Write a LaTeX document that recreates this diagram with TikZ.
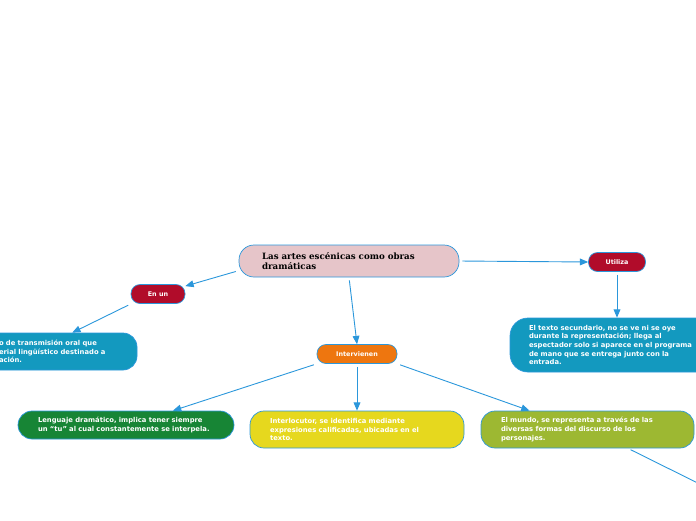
\documentclass[tikz,border=0pt]{standalone}
\usepackage{fontspec}
\setmainfont{DejaVu Sans}
\newfontfamily\titlefont{DejaVu Serif}
\usetikzlibrary{arrows}

\definecolor{linkblue}{HTML}{2B97DB}
\definecolor{crimson}{HTML}{B10C2A}
\definecolor{tealbox}{HTML}{1399BF}
\definecolor{orangebox}{HTML}{EE760F}
\definecolor{greenbox}{HTML}{178535}
\definecolor{yellowbox}{HTML}{E6D81E}
\definecolor{olivebox}{HTML}{9DB832}
\definecolor{pinkbox}{HTML}{E6C5C9}

\begin{document}
\begin{tikzpicture}[x=1pt,y=-1pt,line width=0.9pt,-triangle 45]

  \tikzstyle{pillnode}=[draw=linkblue,line width=0.7pt,rounded corners=9pt,text=white,inner sep=0pt,
                        font=\bfseries\fontsize{6.4}{8}\selectfont,minimum height=19pt]
  \tikzstyle{boxnode}=[draw=linkblue,line width=0.7pt,rounded corners=14pt,text=white,inner sep=0pt,
                       font=\bfseries\fontsize{6.8}{8.6}\selectfont,align=left]
  \tikzstyle{link}=[color=linkblue,shorten <=3pt]

  \useasboundingbox (0,0) rectangle (696,520);

  \node[boxnode,fill=pinkbox,text=black,font=\titlefont\bfseries\fontsize{8.7}{10}\selectfont,
        minimum width=220pt,minimum height=32pt,text width=174pt,rounded corners=15pt] (title) at (349,261)
        {Las artes escénicas como obras\\dramáticas};

  \node[pillnode,fill=crimson,minimum width=54pt]   (enun)   at (158,294) {En un};
  \node[pillnode,fill=orangebox,minimum width=80pt] (interv) at (357,354) {Intervienen};
  \node[pillnode,fill=crimson,minimum width=57pt]   (utiliza) at (617,262) {Utiliza};

  \node[boxnode,fill=tealbox,minimum width=160pt,minimum height=37pt,text width=116pt] (oral) at (57,351.5)
        {o de transmisión oral que\\erial lingüístico destinado a\\ación.};
  \node[boxnode,fill=tealbox,minimum width=214pt,minimum height=54pt,text width=176pt,rounded corners=18pt] (secund) at (617,345)
        {El texto secundario, no se ve ni se oye\\durante la representación; llega al\\espectador solo si aparece en el programa\\de mano que se entrega junto con la\\entrada.};
  \node[boxnode,fill=greenbox,minimum width=216pt,minimum height=28pt,text width=176pt] (lenguaje) at (126,425)
        {Lenguaje dramático, implica tener siempre\\un ``tu'' al cual constantemente se interpela.};
  \node[boxnode,fill=yellowbox,minimum width=214pt,minimum height=37pt,text width=174pt] (interloc) at (357,429.5)
        {Interlocutor, se identifica mediante\\expresiones calificadas, ubicadas en el\\texto.};
  \node[boxnode,fill=olivebox,minimum width=213pt,minimum height=37pt,text width=173pt] (mundo) at (587.5,429.5)
        {El mundo, se representa a través de las\\diversas formas del discurso de los\\personajes.};

  \coordinate (offpage) at (740,504);

  \path[link] (title.185)   edge (enun)
              (title.south) edge (interv.north)
              (title.east)  edge (utiliza.west)
              (enun.200)    edge (oral.51)
              (utiliza.south) edge (secund.north)
              (interv.south west) edge (lenguaje.17)
              (interv.south)      edge (interloc.north)
              (interv.south east) edge (mundo.162)
              (mundo.335)   edge[-] (offpage);
\end{tikzpicture}
\end{document}
